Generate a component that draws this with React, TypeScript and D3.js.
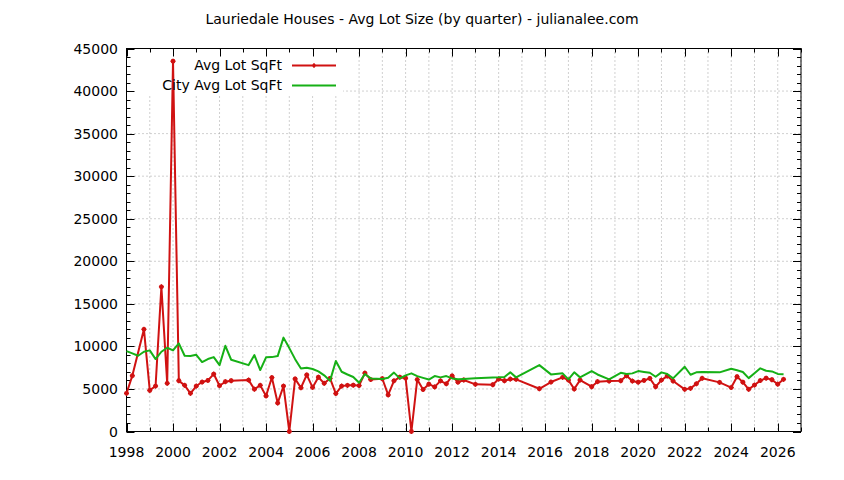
import React from "react";
import * as d3 from "d3";

// Lauriedale houses, avg lot size per quarter (missing quarters simply skipped)
const avgQuarters = [
  1998, 1998.25, 1998.75, 1999, 1999.25, 1999.5, 1999.75, 2000, 2000.25, 2000.5, 2000.75,
  2001, 2001.25, 2001.5, 2001.75, 2002, 2002.25, 2002.5, 2003.25, 2003.5, 2003.75,
  2004, 2004.25, 2004.5, 2004.75, 2005, 2005.25, 2005.5, 2005.75, 2006, 2006.25, 2006.5, 2006.75,
  2007, 2007.25, 2007.5, 2007.75, 2008, 2008.25, 2008.5, 2009, 2009.25, 2009.5, 2009.75,
  2010, 2010.25, 2010.5, 2010.75, 2011, 2011.25, 2011.5, 2011.75, 2012, 2012.25, 2012.5,
  2013, 2013.75, 2014, 2014.25, 2014.5, 2014.75, 2015.75, 2016.25, 2016.75,
  2017, 2017.25, 2017.5, 2018, 2018.25, 2018.75, 2019.25, 2019.5, 2019.75,
  2020, 2020.25, 2020.5, 2020.75, 2021, 2021.25, 2021.5, 2022, 2022.25, 2022.5, 2022.75,
  2023.5, 2024, 2024.25, 2024.5, 2024.75, 2025, 2025.25, 2025.5, 2025.75, 2026, 2026.25,
];
const avgLotSqFt = [
  4480, 6550, 12000, 4830, 5340, 17000, 5660, 43500, 5960, 5420, 4480,
  5340, 5810, 6000, 6750, 5380, 5850, 5960, 6040, 4970, 5420,
  4180, 6340, 3340, 5340, 0, 6180, 5140, 6650, 5180, 6380, 5660, 6240,
  4460, 5340, 5420, 5440, 5400, 6860, 6100, 6200, 4300, 5950, 6380,
  6260, 0, 6100, 4930, 5560, 5240, 5950, 5600, 6530, 5790, 6050,
  5540, 5490, 6160, 5960, 6160, 6130, 5020, 5810, 6360,
  6040, 4990, 6040, 5260, 5850, 5930, 5960, 6550, 5930,
  5790, 6000, 6240, 5260, 6040, 6510, 5930, 4950, 5070, 5600, 6250,
  5770, 5160, 6430, 5800, 4950, 5460, 5980, 6270, 6080, 5560, 6130,
];

// city wide average
const cityQuarters = [
  1998, 1998.25, 1998.5, 1998.75, 1999, 1999.25, 1999.5, 1999.75, 2000, 2000.25, 2000.5, 2000.75,
  2001, 2001.25, 2001.5, 2001.75, 2002, 2002.25, 2002.5, 2003.25, 2003.5, 2003.75,
  2004, 2004.25, 2004.5, 2004.75, 2005, 2005.25, 2005.5, 2005.75, 2006, 2006.25, 2006.5, 2006.75,
  2007, 2007.25, 2007.5, 2007.75, 2008, 2008.25, 2008.5, 2009, 2009.25, 2009.5, 2009.75,
  2010, 2010.25, 2010.5, 2010.75, 2011, 2011.25, 2011.5, 2011.75, 2012, 2012.25, 2012.5,
  2013, 2013.75, 2014, 2014.25, 2014.5, 2014.75, 2015.75, 2016.25, 2016.75,
  2017, 2017.25, 2017.5, 2018, 2018.25, 2018.75, 2019.25, 2019.5, 2019.75,
  2020, 2020.25, 2020.5, 2020.75, 2021, 2021.25, 2021.5, 2022, 2022.25, 2022.5, 2022.75,
  2023.5, 2024, 2024.25, 2024.5, 2024.75, 2025, 2025.25, 2025.5, 2025.75, 2026, 2026.25,
];
const cityAvgLotSqFt = [
  9450, 9180, 8900, 9370, 9530, 8510, 9370, 9840, 9530, 10350, 8900, 8860,
  9010, 8160, 8510, 8740, 7800, 10070, 8430, 7800, 8980, 7220,
  8710, 8740, 8860, 11030, 9800, 8500, 7400, 7500, 7340, 7060, 6600, 5950,
  8290, 7020, 6700, 6400, 5730, 6750, 6240, 6160, 6310, 6920, 6240,
  6600, 6830, 6510, 6300, 6100, 6510, 6360, 6510, 6240, 6130, 6160,
  6250, 6340, 6360, 6400, 6950, 6360, 7800, 6710, 6830,
  6130, 6950, 6360, 7100, 6700, 6130, 6900, 6750, 6830,
  7100, 7000, 6900, 6430, 6950, 6750, 6240, 7610, 6670, 6950, 7000,
  6950, 7380, 7200, 6990, 6270, 6850, 7420, 7140, 7060, 6770, 6740,
];

const yearTicks = [1998, 2000, 2002, 2004, 2006, 2008, 2010, 2012, 2014, 2016, 2018, 2020, 2022, 2024, 2026];
const sqftTicks = [0, 5000, 10000, 15000, 20000, 25000, 30000, 35000, 40000, 45000];

const seriesNames = ["Avg Lot SqFt", "City Avg Lot SqFt"];
const chartTitle = "Lauriedale Houses - Avg Lot Size (by quarter) - julianalee.com";

const W = 844;
const H = 480;
const m = { left: 126.5, right: 801, top: 48.5, bottom: 431.5 };
const RED = "#d01212";
const GREEN = "#16b016";
const FONT = "'DejaVu Sans', sans-serif";

export default function App() {
  const x = d3.scaleLinear().domain([1998, 2027]).range([m.left, m.right]);
  const y = d3.scaleLinear().domain([0, 45000]).range([m.bottom, m.top]);

  const avgPts: [number, number][] = avgQuarters.map((q, i) => [q, avgLotSqFt[i]]);
  const cityPts: [number, number][] = cityQuarters.map((q, i) => [q, cityAvgLotSqFt[i]]);

  const line = d3
    .line<[number, number]>()
    .x((d) => x(d[0]))
    .y((d) => y(d[1]));

  const years = d3.range(1998, 2028, 1);
  const minorY = d3.range(0, 45001, 1000);

  return (
    <svg
      width={W}
      height={H}
      style={{ position: "absolute", left: 0, top: 0, background: "#fff" }}
      fontFamily={FONT}
      fontSize={14}
    >
      <text x={422} y={24} textAnchor="middle" fill="#000">
        {chartTitle}
      </text>

      {/* grid */}
      <g stroke="#a0a0a0" strokeWidth={1} strokeDasharray="1,3">
        {years.slice(1).map((yr) => (
          <line key={"gx" + yr} x1={x(yr)} x2={x(yr)} y1={m.top} y2={m.bottom} />
        ))}
        {sqftTicks.slice(1, -1).map((v) => (
          <line key={"gy" + v} x1={m.left} x2={m.right} y1={y(v)} y2={y(v)} />
        ))}
      </g>

      {/* opaque key box */}
      <rect x={m.left + 1} y={m.top + 1} width={342 - m.left} height={46} fill="#fff" />

      {/* ticks, mirrored on all sides */}
      <g stroke="#000" strokeWidth={1}>
        {years.map((yr) => {
          const len = yr % 2 === 0 ? 8 : 4;
          const xx = Math.round(x(yr)) + 0.5;
          return (
            <g key={"tx" + yr}>
              <line x1={xx} x2={xx} y1={m.bottom} y2={m.bottom - len} />
              <line x1={xx} x2={xx} y1={m.top} y2={m.top + len} />
            </g>
          );
        })}
        {minorY.map((v) => {
          const len = v % 5000 === 0 ? 8 : 4;
          const yy = Math.round(y(v)) + 0.5;
          return (
            <g key={"ty" + v}>
              <line x1={m.left} x2={m.left + len} y1={yy} y2={yy} />
              <line x1={m.right} x2={m.right - len} y1={yy} y2={yy} />
            </g>
          );
        })}
      </g>

      <rect
        x={m.left}
        y={m.top}
        width={m.right - m.left}
        height={m.bottom - m.top}
        fill="none"
        stroke="#000"
        strokeWidth={1}
      />

      {/* tick labels */}
      {sqftTicks.map((v) => (
        <text key={"ly" + v} x={118} y={y(v) + 5} textAnchor="end" fill="#000">
          {v}
        </text>
      ))}
      {yearTicks.map((yr) => (
        <text key={"lx" + yr} x={x(yr)} y={457} textAnchor="middle" fill="#000">
          {yr}
        </text>
      ))}

      {/* series */}
      <path d={line(avgPts) ?? ""} fill="none" stroke={RED} strokeWidth={2} strokeLinejoin="round" />
      {avgPts.map((d, i) => (
        <g key={"pt" + i} stroke={RED} strokeWidth={1.2}>
          <circle cx={x(d[0])} cy={y(d[1])} r={1.8} fill={RED} />
          <line x1={x(d[0]) - 2.5} x2={x(d[0]) + 2.5} y1={y(d[1])} y2={y(d[1])} />
          <line x1={x(d[0])} x2={x(d[0])} y1={y(d[1]) - 2.5} y2={y(d[1]) + 2.5} />
        </g>
      ))}
      <path d={line(cityPts) ?? ""} fill="none" stroke={GREEN} strokeWidth={2} strokeLinejoin="round" />

      {/* legend */}
      <text x={282} y={70} textAnchor="end" fill="#000">
        {seriesNames[0]}
      </text>
      <line x1={292} x2={336} y1={65.5} y2={65.5} stroke={RED} strokeWidth={2} />
      <circle cx={314} cy={65.5} r={1.8} fill={RED} />
      <line x1={314} x2={314} y1={63} y2={68} stroke={RED} strokeWidth={1.2} />
      <text x={282} y={90} textAnchor="end" fill="#000">
        {seriesNames[1]}
      </text>
      <line x1={292} x2={336} y1={85.5} y2={85.5} stroke={GREEN} strokeWidth={2} />
    </svg>
  );
}
